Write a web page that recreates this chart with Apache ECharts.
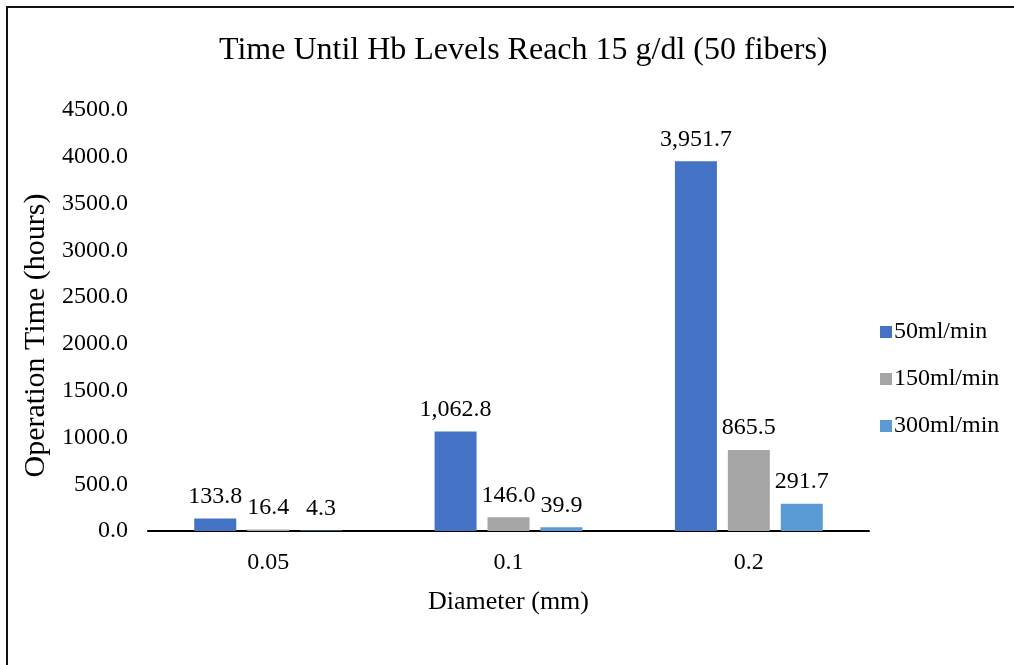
<!DOCTYPE html>
<html>
<head>
<meta charset="utf-8">
<title>Time Until Hb Levels Reach 15 g/dl</title>
<script src="https://cdn.jsdelivr.net/npm/echarts@6/dist/echarts.min.js"></script>
<style>
  html, body { margin: 0; padding: 0; background: #fff; }
  #chart { width: 1014px; height: 665px; }
</style>
</head>
<body>
<div id="chart"></div>
<script>
// Fiber diameters (mm) on the category axis
const diameters = ['0.05', '0.1', '0.2'];

// Operation time (hours) per blood flow rate
const flow50 = [133.8, 1062.8, 3951.7];
const flow150 = [16.4, 146.0, 865.5];
const flow300 = [4.3, 39.9, 291.7];

const seriesNames = ['50ml/min', '150ml/min', '300ml/min'];
const seriesColors = ['#4472C4', '#A5A5A5', '#5B9BD5'];

// Y axis range and step
const yMin = 0;
const yMax = 4500;
const yStep = 500;

const FONT = "'Liberation Serif', 'Times New Roman', serif";

// Format with thousands separator and one decimal: 3951.7 -> "3,951.7"
function fmt(v) {
  const parts = v.toFixed(1).split('.');
  parts[0] = parts[0].replace(/\B(?=(\d{3})+(?!\d))/g, ',');
  return parts.join('.');
}

const chart = echarts.init(document.getElementById('chart'), null, { renderer: 'canvas' });

const seriesData = [flow50, flow150, flow300];

chart.setOption({
  backgroundColor: '#fff',
  animation: false,
  textStyle: { fontFamily: FONT, color: '#000' },
  title: {
    text: 'Time Until Hb Levels Reach 15 g/dl (50 fibers)',
    left: 214,
    top: 30,
    textStyle: { fontFamily: FONT, fontSize: 32, fontWeight: 'normal', color: '#000' }
  },
  legend: {
    orient: 'vertical',
    left: 875,
    top: 315,
    itemWidth: 12,
    itemHeight: 12,
    itemGap: 23,
    icon: 'rect',
    textStyle: { fontFamily: FONT, fontSize: 24, color: '#000', padding: [0, 0, 0, -3] },
    data: seriesNames
  },
  grid: { left: 148, right: 145, top: 110, bottom: 134, containLabel: false },
  xAxis: {
    type: 'category',
    data: diameters,
    name: 'Diameter (mm)',
    nameLocation: 'middle',
    nameGap: 58,
    nameTextStyle: { fontFamily: FONT, fontSize: 26, color: '#000' },
    axisLine: { lineStyle: { color: '#000', width: 2 } },
    axisTick: { show: false },
    axisLabel: { fontFamily: FONT, fontSize: 24, color: '#000', margin: 20 }
  },
  yAxis: {
    type: 'value',
    min: yMin,
    max: yMax,
    interval: yStep,
    name: 'Operation Time (hours)',
    nameLocation: 'middle',
    nameGap: 88,
    nameTextStyle: { fontFamily: FONT, fontSize: 30, color: '#000', padding: [0, 30, 0, 0] },
    axisLine: { show: false },
    axisTick: { show: false },
    splitLine: { show: false },
    axisLabel: {
      fontFamily: FONT, fontSize: 24, color: '#000', margin: 20,
      formatter: v => v.toFixed(1)
    }
  },
  series: seriesData.map((d, i) => ({
    name: seriesNames[i],
    type: 'bar',
    data: d,
    barWidth: 42,
    barGap: '26%',
    itemStyle: { color: seriesColors[i] },
    label: {
      show: true,
      position: 'top',
      distance: 10,
      fontFamily: FONT,
      fontSize: 24,
      color: '#000',
      formatter: p => fmt(p.value)
    }
  })),
  graphic: [{
    type: 'rect',
    shape: { x: 7, y: 7, width: 1020, height: 700 },
    style: { fill: 'none', stroke: '#111', lineWidth: 2 },
    silent: true,
    z: 100
  }]
});
</script>
</body>
</html>
